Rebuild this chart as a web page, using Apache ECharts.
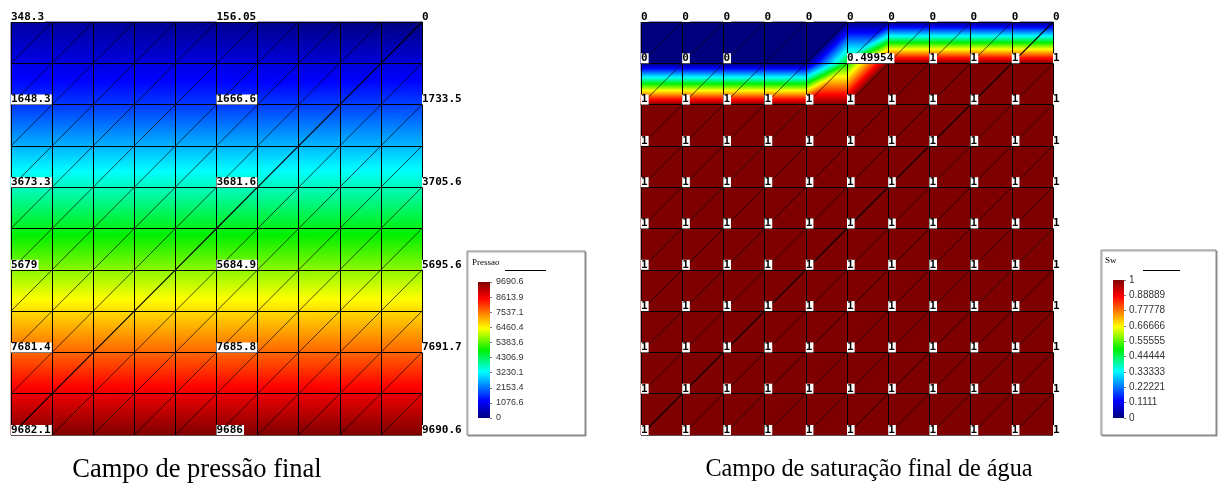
<!DOCTYPE html>
<html><head><meta charset="utf-8">
<script src="https://cdn.jsdelivr.net/npm/echarts@6/dist/echarts.min.js"></script>
<style>html,body{margin:0;padding:0;background:#fff}#c{width:1219px;height:484px}</style>
</head><body><div id="c"></div>
<script>
// ---------------- data ----------------
const meshN = 10; // mesh divisions per side
const pressureCols = [0, 5, 10];
const pressureRows = [0, 2, 4, 6, 8, 10];
const pressureValues = [
  [348.3, 156.05, 0],
  [1648.3, 1666.6, 1733.5],
  [3673.3, 3681.6, 3705.6],
  [5679, 5684.9, 5695.6],
  [7681.4, 7685.8, 7691.7],
  [9682.1, 9686, 9690.6]
];
const pressureMax = 9690.6;
const pressureTicks = ['0', '1076.6', '2153.4', '3230.1', '4306.9', '5383.6', '6460.4', '7537.1', '8613.9', '9690.6'];

const swCols = [0, 1, 2, 3, 4, 5, 6, 7, 8, 9, 10];
const swRows = [0, 1, 2, 3, 4, 5, 6, 7, 8, 9, 10];
const swValues = [
  [0, 0, 0, 0, 0, 0, 0, 0, 0, 0, 0],
  [0, 0, 0, 0, 0, 0.49954, 1, 1, 1, 1, 1],
  [1, 1, 1, 1, 1, 1, 1, 1, 1, 1, 1],
  [1, 1, 1, 1, 1, 1, 1, 1, 1, 1, 1],
  [1, 1, 1, 1, 1, 1, 1, 1, 1, 1, 1],
  [1, 1, 1, 1, 1, 1, 1, 1, 1, 1, 1],
  [1, 1, 1, 1, 1, 1, 1, 1, 1, 1, 1],
  [1, 1, 1, 1, 1, 1, 1, 1, 1, 1, 1],
  [1, 1, 1, 1, 1, 1, 1, 1, 1, 1, 1],
  [1, 1, 1, 1, 1, 1, 1, 1, 1, 1, 1],
  [1, 1, 1, 1, 1, 1, 1, 1, 1, 1, 1]
];
const swMax = 1;
const swHiddenLabels = [[3, 1], [4, 1], [6, 1]];
const swTicks = ['0', '0.1111', '0.22221', '0.33333', '0.44444', '0.55555', '0.66666', '0.77778', '0.88889', '1'];

const leftTitle = 'Campo de pressão final';
const rightTitle = 'Campo de saturação final de água';

// ---------------- colour ramp ----------------
const rampStops = [[0, '#00007f'], [0.125, '#0000ff'], [0.34, '#00ffff'], [0.5, '#00f000'], [0.66, '#ffff00'], [0.88, '#ff0000'], [1, '#7f0000']];
function hex2rgb(h) { return [parseInt(h.substr(1, 2), 16), parseInt(h.substr(3, 2), 16), parseInt(h.substr(5, 2), 16)]; }
const rampRGB = rampStops.map(s => [s[0], hex2rgb(s[1])]);
function rampColor(t) {
  t = Math.max(0, Math.min(1, t));
  for (let k = 1; k < rampRGB.length; k++) {
    if (t <= rampRGB[k][0]) {
      const a = rampRGB[k - 1], b = rampRGB[k];
      const f = (t - a[0]) / (b[0] - a[0]);
      const c = a[1].map((v, i) => Math.round(v + (b[1][i] - v) * f));
      return 'rgb(' + c.join(',') + ')';
    }
  }
  return 'rgb(' + rampRGB[rampRGB.length - 1][1].join(',') + ')';
}
const legendGradientStops = rampStops.map(s => ({ offset: s[0], color: s[1] }));

// ---------------- builders ----------------
function buildTriangles(cols, rows, vals) {
  const tris = [];
  for (let j = 0; j < rows.length - 1; j++) {
    for (let i = 0; i < cols.length - 1; i++) {
      const TL = [cols[i], rows[j], vals[j][i]];
      const TR = [cols[i + 1], rows[j], vals[j][i + 1]];
      const BL = [cols[i], rows[j + 1], vals[j + 1][i]];
      const BR = [cols[i + 1], rows[j + 1], vals[j + 1][i + 1]];
      tris.push(TL.concat(TR, BL));
      tris.push(BL.concat(TR, BR));
    }
  }
  return tris;
}
function fieldRender(maxV) {
  return function (params, api) {
    const pts = [], vs = [];
    for (let k = 0; k < 3; k++) {
      pts.push(api.coord([api.value(3 * k), api.value(3 * k + 1)]));
      vs.push(api.value(3 * k + 2) / maxV);
    }
    const vmin = Math.min.apply(null, vs), vmax = Math.max.apply(null, vs);
    let fill;
    if (vmax - vmin < 1e-9) {
      fill = rampColor(vmin);
    } else {
      const dx2 = pts[1][0] - pts[0][0], dy2 = pts[1][1] - pts[0][1], dv2 = vs[1] - vs[0];
      const dx3 = pts[2][0] - pts[0][0], dy3 = pts[2][1] - pts[0][1], dv3 = vs[2] - vs[0];
      const det = dx2 * dy3 - dx3 * dy2;
      const gx = (dv2 * dy3 - dv3 * dy2) / det;
      const gy = (dx2 * dv3 - dx3 * dv2) / det;
      const g2 = gx * gx + gy * gy;
      const ax = pts[0][0] + gx * (vmin - vs[0]) / g2, ay = pts[0][1] + gy * (vmin - vs[0]) / g2;
      const bx = pts[0][0] + gx * (vmax - vs[0]) / g2, by = pts[0][1] + gy * (vmax - vs[0]) / g2;
      const stops = [{ offset: 0, color: rampColor(vmin) }];
      rampStops.forEach(s => {
        if (s[0] > vmin && s[0] < vmax) stops.push({ offset: (s[0] - vmin) / (vmax - vmin), color: s[1] });
      });
      stops.push({ offset: 1, color: rampColor(vmax) });
      fill = new echarts.graphic.LinearGradient(ax, ay, bx, by, stops, true);
    }
    return { type: 'polygon', shape: { points: pts }, style: { fill: fill, stroke: fill, lineWidth: 0.8 } };
  };
}
function buildGridLines(n) {
  const segs = [];
  for (let r = 0; r <= n; r++) segs.push({ coords: [[0, r], [n, r]] });
  for (let c = 0; c <= n; c++) segs.push({ coords: [[c, 0], [c, n]] });
  return segs;
}
function buildDiagonals(n) {
  const segs = [];
  for (let j = 0; j < n; j++) for (let i = 0; i < n; i++) {
    const seg = { coords: [[i, j + 1], [i + 1, j]] };
    if (i + j + 1 === n) seg.lineStyle = { width: 1.15, opacity: 1 };
    segs.push(seg);
  }
  return segs;
}
function buildPressureLabels() {
  const out = [];
  pressureRows.forEach((r, j) => pressureCols.forEach((c, i) => out.push({ name: String(pressureValues[j][i]), value: [c, r] })));
  return out;
}
function buildSwLabels() {
  const out = [];
  swRows.forEach((r, j) => swCols.forEach((c, i) => {
    if (swHiddenLabels.some(h => h[0] === c && h[1] === r)) return;
    out.push({ name: String(swValues[j][i]), value: [c, r] });
  }));
  return out;
}

// ---------------- chart ----------------
const chart = echarts.init(document.getElementById('c'), null, { renderer: 'canvas' });
const labelStyle = {
  show: true, position: [0, 0], align: 'left', verticalAlign: 'bottom', opacity: 1,
  formatter: p => p.name, fontFamily: 'DejaVu Sans Mono', fontSize: 11, fontWeight: 'bold', lineHeight: 10,
  color: '#000', backgroundColor: '#ffffff', padding: [0, 1, 0, 0]
};
const fieldAxisX = (gi) => ({ type: 'value', gridIndex: gi, min: 0, max: meshN, show: false });
const fieldAxisY = (gi) => ({ type: 'value', gridIndex: gi, min: 0, max: meshN, inverse: true, show: false });
const legendAxisY = (gi, ticks, fs, mg) => ({
  type: 'value', gridIndex: gi, min: 0, max: ticks.length - 1, interval: 1, position: 'right',
  axisLine: { show: false }, splitLine: { show: false },
  axisTick: { show: true, length: 2, lineStyle: { color: '#777' } },
  axisLabel: { show: true, margin: mg, fontSize: fs, color: '#333', fontFamily: "'Liberation Sans Narrow', 'Liberation Sans', Arial, sans-serif", formatter: v => ticks[Math.round(v)] }
});
const boxStyle = { fill: '#fff', stroke: '#8a8a8a', lineWidth: 1, shadowColor: 'rgba(0,0,0,0.35)', shadowOffsetX: 1, shadowOffsetY: 1, shadowBlur: 1 };

chart.setOption({
  animation: false,
  backgroundColor: '#fff',
  grid: [
    { left: 11, top: 22, width: 411, height: 413 },
    { left: 641, top: 22, width: 412, height: 413 },
    { left: 478, top: 282, width: 12, height: 136 },
    { left: 1113, top: 280, width: 11, height: 138 }
  ],
  xAxis: [fieldAxisX(0), fieldAxisX(1),
    { type: 'category', gridIndex: 2, data: ['bar'], show: false },
    { type: 'category', gridIndex: 3, data: ['bar'], show: false }],
  yAxis: [fieldAxisY(0), fieldAxisY(1), legendAxisY(2, pressureTicks, 9, 6), legendAxisY(3, swTicks, 10, 5)],
  graphic: [
    { type: 'rect', shape: { x: 467, y: 251, width: 118, height: 184 }, style: boxStyle, z: -1 },
    { type: 'rect', shape: { x: 1101, y: 250, width: 115, height: 185 }, style: boxStyle, z: -1 },
    { type: 'text', x: 472, y: 263, style: { text: 'Pressao', fontFamily: 'Liberation Serif', fontSize: 9, fill: '#000', verticalAlign: 'middle' } },
    { type: 'line', shape: { x1: 505, y1: 270.5, x2: 546, y2: 270.5 }, style: { stroke: '#000', lineWidth: 1 } },
    { type: 'text', x: 1105, y: 261, style: { text: 'Sw', fontFamily: 'Liberation Serif', fontSize: 9, fill: '#000', verticalAlign: 'middle' } },
    { type: 'line', shape: { x1: 1143, y1: 270.5, x2: 1180, y2: 270.5 }, style: { stroke: '#000', lineWidth: 1 } },
    { type: 'text', x: 197, y: 470, style: { text: leftTitle, fontFamily: 'Liberation Serif', fontSize: 26.5, fill: '#000', align: 'center', verticalAlign: 'middle' } },
    { type: 'text', x: 869, y: 470, style: { text: rightTitle, fontFamily: 'Liberation Serif', fontSize: 24.2, fill: '#000', align: 'center', verticalAlign: 'middle' } }
  ],
  series: [
    { type: 'custom', xAxisIndex: 0, yAxisIndex: 0, silent: true, z: 1, renderItem: fieldRender(pressureMax), data: buildTriangles(pressureCols, pressureRows, pressureValues) },
    { type: 'custom', xAxisIndex: 1, yAxisIndex: 1, silent: true, z: 1, renderItem: fieldRender(swMax), data: buildTriangles(swCols, swRows, swValues) },
    { type: 'lines', coordinateSystem: 'cartesian2d', xAxisIndex: 0, yAxisIndex: 0, silent: true, z: 3, lineStyle: { color: '#000', width: 0.8, opacity: 0.85 }, data: buildDiagonals(meshN) },
    { type: 'lines', coordinateSystem: 'cartesian2d', xAxisIndex: 1, yAxisIndex: 1, silent: true, z: 3, lineStyle: { color: '#000', width: 0.8, opacity: 0.85 }, data: buildDiagonals(meshN) },
    { type: 'lines', coordinateSystem: 'cartesian2d', xAxisIndex: 0, yAxisIndex: 0, silent: true, z: 4, lineStyle: { color: '#000', width: 1, opacity: 1 }, data: buildGridLines(meshN) },
    { type: 'lines', coordinateSystem: 'cartesian2d', xAxisIndex: 1, yAxisIndex: 1, silent: true, z: 4, lineStyle: { color: '#000', width: 1, opacity: 1 }, data: buildGridLines(meshN) },
    { type: 'scatter', xAxisIndex: 0, yAxisIndex: 0, silent: true, z: 6, symbolSize: 0, itemStyle: { opacity: 1 }, label: labelStyle, data: buildPressureLabels() },
    { type: 'scatter', xAxisIndex: 1, yAxisIndex: 1, silent: true, z: 6, symbolSize: 0, itemStyle: { opacity: 1 }, label: labelStyle, data: buildSwLabels() },
    { type: 'bar', xAxisIndex: 2, yAxisIndex: 2, silent: true, barWidth: '100%', itemStyle: { color: new echarts.graphic.LinearGradient(0, 1, 0, 0, legendGradientStops) }, data: [pressureTicks.length - 1] },
    { type: 'bar', xAxisIndex: 3, yAxisIndex: 3, silent: true, barWidth: '100%', itemStyle: { color: new echarts.graphic.LinearGradient(0, 1, 0, 0, legendGradientStops) }, data: [swTicks.length - 1] }
  ]
});
</script></body></html>
